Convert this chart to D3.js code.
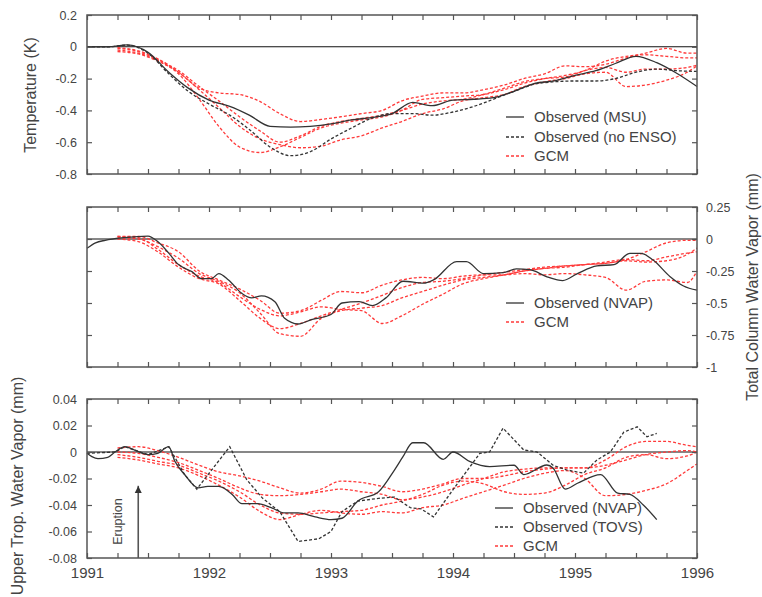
<!DOCTYPE html>
<html>
<head>
<meta charset="utf-8">
<script src="https://cdn.jsdelivr.net/npm/d3@7"></script>
<style>
  body { margin: 0; background: #fff; }
  svg text { font-family: "Liberation Sans", Arial, Helvetica, sans-serif; fill: #444; }
</style>
</head>
<body>
<svg id="chart" width="762" height="597"></svg>
<script>
// ---- data ----
const yearTicks = [1991, 1992, 1993, 1994, 1995, 1996];

const tempTicks = [0.2, 0, -0.2, -0.4, -0.6, -0.8];
const tempTickLabels = ['0.2', '0', '-0.2', '-0.4', '-0.6', '-0.8'];
const tcwvTicks = [0.25, 0, -0.25, -0.5, -0.75, -1];
const tcwvTickLabels = ['0.25', '0', '-0.25', '-0.5', '-0.75', '-1'];
const utwvTicks = [0.04, 0.02, 0, -0.02, -0.04, -0.06, -0.08];
const utwvTickLabels = ['0.04', '0.02', '0', '-0.02', '-0.04', '-0.06', '-0.08'];

// GCM ensemble members share one time axis
const gcmYears = [1991.25, 1991.42, 1991.58, 1991.75, 1991.92, 1992.08, 1992.25, 1992.42, 1992.58, 1992.75,
  1992.92, 1993.08, 1993.25, 1993.42, 1993.58, 1993.75, 1993.92, 1994.08, 1994.25, 1994.42,
  1994.58, 1994.75, 1994.92, 1995.08, 1995.25, 1995.42, 1995.58, 1995.75, 1995.92, 1996.0];

// Panel 1: temperature (K)
const msuYears = [1991.0, 1991.17, 1991.33, 1991.5, 1991.67, 1991.83, 1992.0, 1992.17, 1992.33, 1992.5, 1992.67,
  1992.83, 1993.0, 1993.17, 1993.33, 1993.5, 1993.67, 1993.83, 1994.0, 1994.17, 1994.33,
  1994.5, 1994.67, 1994.83, 1995.0, 1995.17, 1995.33, 1995.5, 1995.67, 1995.83, 1996.0];
const msuTemp = [0.0, 0.0, 0.012, -0.035, -0.16, -0.26, -0.335, -0.375, -0.43, -0.50, -0.505,
  -0.50, -0.485, -0.46, -0.445, -0.42, -0.35, -0.37, -0.335, -0.33, -0.32,
  -0.28, -0.23, -0.215, -0.18, -0.15, -0.105, -0.06, -0.10, -0.165, -0.25];
const noEnsoTemp = [0.0, 0.0, 0.01, -0.04, -0.17, -0.28, -0.36, -0.43, -0.52, -0.63, -0.685,
  -0.66, -0.58, -0.51, -0.45, -0.42, -0.42, -0.43, -0.41, -0.375, -0.33,
  -0.28, -0.235, -0.22, -0.215, -0.215, -0.20, -0.16, -0.14, -0.15, -0.155];
const gcmTemp1 = [-0.005, -0.025, -0.075, -0.16, -0.26, -0.29, -0.30, -0.345, -0.42, -0.47, -0.457, -0.44, -0.42, -0.40, -0.34,
  -0.31, -0.29, -0.29, -0.27, -0.24, -0.20, -0.17, -0.12, -0.125, -0.11, -0.07, -0.04, -0.01, -0.04, -0.04];
const gcmTemp2 = [-0.02, -0.04, -0.085, -0.17, -0.33, -0.50, -0.63, -0.665, -0.63, -0.57, -0.51, -0.48, -0.46, -0.44, -0.40,
  -0.33, -0.32, -0.31, -0.30, -0.27, -0.23, -0.20, -0.18, -0.15, -0.09, -0.06, -0.05, -0.06, -0.07, -0.07];
const gcmTemp3 = [-0.01, -0.03, -0.08, -0.15, -0.25, -0.34, -0.44, -0.53, -0.60, -0.56, -0.50, -0.47, -0.45, -0.43, -0.40,
  -0.36, -0.34, -0.33, -0.30, -0.26, -0.22, -0.20, -0.19, -0.15, -0.13, -0.16, -0.14, -0.14, -0.13, -0.115];
const gcmTemp4 = [-0.03, -0.045, -0.09, -0.16, -0.27, -0.38, -0.50, -0.58, -0.615, -0.635, -0.625, -0.585, -0.56, -0.51, -0.47,
  -0.42, -0.39, -0.34, -0.32, -0.30, -0.25, -0.22, -0.20, -0.17, -0.16, -0.25, -0.24, -0.21, -0.16, -0.12];

// Panel 2: total column water vapor (mm)
const nvapYears = [1991.0, 1991.07, 1991.15, 1991.3, 1991.5, 1991.58, 1991.67, 1991.75, 1991.86, 1991.94,
  1992.02, 1992.08, 1992.16, 1992.27, 1992.35, 1992.43, 1992.54, 1992.62, 1992.73, 1992.84,
  1993.0, 1993.09, 1993.23, 1993.34, 1993.45, 1993.59, 1993.76, 1993.84, 1994.03, 1994.11,
  1994.25, 1994.41, 1994.52, 1994.63, 1994.77, 1994.9, 1995.02, 1995.18, 1995.32, 1995.45,
  1995.54, 1995.64, 1995.78, 1995.89, 1996.0];
const nvapTcwv = [-0.073, -0.03, -0.01, 0.01, 0.023, -0.02, -0.11, -0.20, -0.255, -0.31,
  -0.31, -0.27, -0.32, -0.425, -0.46, -0.445, -0.49, -0.62, -0.664, -0.63,
  -0.59, -0.50, -0.49, -0.52, -0.46, -0.33, -0.345, -0.32, -0.177, -0.177,
  -0.27, -0.263, -0.234, -0.24, -0.295, -0.325, -0.27, -0.21, -0.20, -0.112,
  -0.112, -0.164, -0.294, -0.367, -0.40];
const gcmTcwv1 = [0.02, 0.02, -0.03, -0.10, -0.25, -0.32, -0.39, -0.48, -0.58, -0.56, -0.48, -0.41, -0.42, -0.36, -0.32,
  -0.30, -0.31, -0.29, -0.28, -0.28, -0.27, -0.28, -0.27, -0.28, -0.30, -0.40, -0.33, -0.32, -0.34, -0.25];
const gcmTcwv2 = [0.01, 0.00, -0.06, -0.15, -0.27, -0.33, -0.42, -0.58, -0.74, -0.76, -0.62, -0.56, -0.54, -0.52, -0.46,
  -0.41, -0.36, -0.32, -0.30, -0.28, -0.25, -0.23, -0.22, -0.20, -0.19, -0.16, -0.10, -0.03, -0.01, -0.01];
const gcmTcwv3 = [0.02, 0.01, -0.08, -0.20, -0.29, -0.34, -0.45, -0.55, -0.60, -0.57, -0.53, -0.55, -0.56, -0.66, -0.60,
  -0.51, -0.43, -0.35, -0.31, -0.28, -0.25, -0.23, -0.21, -0.20, -0.19, -0.17, -0.18, -0.17, -0.12, -0.07];
const gcmTcwv4 = [0.00, -0.02, -0.10, -0.22, -0.31, -0.35, -0.48, -0.62, -0.70, -0.66, -0.60, -0.55, -0.50, -0.44, -0.38,
  -0.34, -0.33, -0.31, -0.28, -0.26, -0.24, -0.22, -0.21, -0.20, -0.18, -0.16, -0.17, -0.14, -0.11, -0.10];

// Panel 3: upper tropospheric water vapor (mm)
const nvapUtYears = [1991.0, 1991.04, 1991.09, 1991.17, 1991.23, 1991.31, 1991.39, 1991.5, 1991.58, 1991.67,
  1991.72, 1991.8, 1991.91, 1991.99, 1992.08, 1992.19, 1992.27, 1992.4, 1992.51, 1992.62,
  1992.73, 1992.87, 1993.0, 1993.09, 1993.22, 1993.39, 1993.52, 1993.59, 1993.67, 1993.76,
  1993.92, 1994.0, 1994.14, 1994.3, 1994.5, 1994.58, 1994.77, 1994.82, 1994.92, 1995.02,
  1995.21, 1995.35, 1995.45, 1995.56, 1995.67];
const nvapUtwv = [-0.001, -0.0035, -0.005, -0.004, 0.0, 0.004, 0.0015, -0.002, -0.001, 0.004,
  -0.007, -0.017, -0.027, -0.026, -0.026, -0.032, -0.039, -0.039, -0.042, -0.046,
  -0.046, -0.049, -0.051, -0.05, -0.037, -0.03, -0.0136, -0.0035, 0.007, 0.007,
  -0.0055, 0.0, -0.0073, -0.011, -0.010, -0.017, -0.0098, -0.012, -0.028, -0.0236,
  -0.017, -0.031, -0.032, -0.040, -0.051];
const tovsYears = [1991.0, 1991.23, 1991.31, 1991.5, 1991.67, 1991.8, 1991.9, 1992.17, 1992.31, 1992.44,
  1992.58, 1992.73, 1992.9, 1993.0, 1993.09, 1993.22, 1993.39, 1993.52, 1993.65, 1993.74,
  1993.84, 1993.98, 1994.14, 1994.22, 1994.3, 1994.41, 1994.58, 1994.69, 1994.82, 1994.93,
  1995.07, 1995.18, 1995.29, 1995.4, 1995.51, 1995.59, 1995.67];
const tovsUtwv = [-0.001, 0.0, 0.004, -0.002, 0.004, -0.017, -0.028, 0.004, -0.021, -0.035,
  -0.045, -0.0675, -0.0655, -0.06, -0.045, -0.037, -0.035, -0.034, -0.042, -0.043,
  -0.049, -0.031, -0.011, -0.001, 0.0, 0.018, 0.0015, 0.0, -0.01, -0.0135,
  -0.016, -0.006, 0.0, 0.015, 0.019, 0.0115, 0.014];
const gcmUtwv1 = [0.003, 0.004, 0.001, -0.004, -0.010, -0.015, -0.018, -0.022, -0.027, -0.031, -0.028, -0.022, -0.023, -0.026, -0.030,
  -0.028, -0.024, -0.020, -0.020, -0.018, -0.015, -0.013, -0.012, -0.012, -0.010, -0.006, -0.002, 0.000, 0.001, 0.000];
const gcmUtwv2 = [0.0, -0.001, -0.004, -0.008, -0.014, -0.020, -0.027, -0.032, -0.033, -0.032, -0.030, -0.028, -0.030, -0.032, -0.036,
  -0.034, -0.030, -0.025, -0.020, -0.015, -0.013, -0.012, -0.012, -0.012, -0.006, 0.004, 0.008, 0.008, 0.005, 0.004];
const gcmUtwv3 = [-0.002, -0.004, -0.007, -0.010, -0.016, -0.022, -0.030, -0.040, -0.046, -0.047, -0.046, -0.045, -0.044, -0.040, -0.037,
  -0.032, -0.025, -0.022, -0.024, -0.030, -0.032, -0.031, -0.025, -0.017, -0.012, -0.004, -0.002, -0.005, -0.003, 0.0];
const gcmUtwv4 = [-0.004, -0.006, -0.009, -0.012, -0.018, -0.025, -0.034, -0.045, -0.051, -0.047, -0.044, -0.046, -0.047, -0.045, -0.046,
  -0.042, -0.040, -0.035, -0.030, -0.025, -0.020, -0.016, -0.014, -0.020, -0.033, -0.032, -0.029, -0.024, -0.014, -0.009];

const eruptionYear = 1991.42;

// ---- styles ----
const INK = '#333';
const RED = '#ff3a3a';
const FRAME = '#555';
const TEXT = '#444';
const DASH = '3,2';

const svg = d3.select('#chart');
const x = d3.scaleLinear().domain([1991, 1996]).range([87, 697]);
const [X0, X1] = x.range();
const quarterTicks = d3.range(1991, 1996.001, 0.25);

function styleAxis(sel, size) {
  sel.select('.domain').remove();
  sel.selectAll('line').attr('stroke', FRAME).attr('stroke-width', 1.2);
  sel.selectAll('text').style('font-size', size + 'px').style('fill', TEXT)
    .style('font-family', '"Liberation Sans", Arial, Helvetica, sans-serif');
}

function drawLine(g, y, years, vals, color, dash, curve) {
  const pts = years.map((t, i) => [t, vals[i]]);
  const path = g.append('path')
    .datum(pts)
    .attr('fill', 'none')
    .attr('stroke', color)
    .attr('stroke-width', 1.3)
    .attr('d', d3.line().x(d => x(d[0])).y(d => y(d[1])).curve(curve || d3.curveMonotoneX));
  if (dash) path.attr('stroke-dasharray', dash);
}

function drawLegend(g, lx, tx, items) {
  items.forEach(it => {
    g.append('line')
      .attr('x1', lx).attr('x2', lx + 18)
      .attr('y1', it.y).attr('y2', it.y)
      .attr('stroke', it.color).attr('stroke-width', 1.3)
      .attr('stroke-dasharray', it.dash || null);
    g.append('text')
      .attr('x', tx).attr('y', it.y).attr('dy', '0.36em')
      .style('font-size', '15px')
      .text(it.label);
  });
}

function drawPanel(p) {
  const y = d3.scaleLinear().domain(p.domain).range([p.bottom, p.top]);
  const g = svg.append('g');

  // zero reference
  g.append('line')
    .attr('x1', X0).attr('x2', X1).attr('y1', y(0)).attr('y2', y(0))
    .attr('stroke', '#111').attr('stroke-width', 1.1);

  p.gcm.forEach(vals => drawLine(g, y, gcmYears, vals, RED, DASH));
  p.obs.forEach(o => drawLine(g, y, o.years, o.vals, INK, o.dash, o.curve));

  // frame
  g.append('rect')
    .attr('x', X0).attr('y', p.top)
    .attr('width', X1 - X0).attr('height', p.bottom - p.top)
    .attr('fill', 'none').attr('stroke', FRAME).attr('stroke-width', 1.5);

  // inward ticks on all four sides
  g.append('g').attr('transform', `translate(0,${p.top})`)
    .call(d3.axisTop(x).tickValues(quarterTicks).tickSize(-5).tickFormat(''))
    .call(s => styleAxis(s, 12));
  g.append('g').attr('transform', `translate(0,${p.bottom})`)
    .call(d3.axisBottom(x).tickValues(quarterTicks).tickSize(-5).tickPadding(9)
      .tickFormat(d => (p.yearLabels && Number.isInteger(d)) ? String(d) : ''))
    .call(s => styleAxis(s, 15));
  g.append('g').attr('transform', `translate(${X0},0)`)
    .call(d3.axisLeft(y).tickValues(p.ticks).tickSize(-5).tickPadding(10)
      .tickFormat((d, i) => p.side === 'left' ? p.tickLabels[i] : ''))
    .call(s => styleAxis(s, 12.5));
  g.append('g').attr('transform', `translate(${X1},0)`)
    .call(d3.axisRight(y).tickValues(p.ticks).tickSize(-5).tickPadding(9)
      .tickFormat((d, i) => p.side === 'right' ? p.tickLabels[i] : ''))
    .call(s => styleAxis(s, 12.5));

  // axis title
  g.append('text')
    .attr('transform', `translate(${p.titleX},${p.titleY}) rotate(-90)`)
    .attr('text-anchor', 'middle').attr('dy', '0.36em')
    .style('font-size', '16px')
    .text(p.title);

  drawLegend(g, p.legendX, p.legendX + 28, p.legend);
  return { g, y };
}

drawPanel({
  top: 15, bottom: 174, domain: [-0.8, 0.2],
  ticks: tempTicks, tickLabels: tempTickLabels, side: 'left',
  title: 'Temperature (K)', titleX: 30, titleY: 95,
  gcm: [gcmTemp1, gcmTemp2, gcmTemp3, gcmTemp4],
  obs: [
    { years: msuYears, vals: noEnsoTemp, dash: DASH },
    { years: msuYears, vals: msuTemp, dash: null }
  ],
  legendX: 506,
  legend: [
    { y: 117, label: 'Observed (MSU)', color: INK },
    { y: 137, label: 'Observed (no ENSO)', color: INK, dash: DASH },
    { y: 156, label: 'GCM', color: RED, dash: DASH }
  ]
});

drawPanel({
  top: 207, bottom: 367, domain: [-1, 0.25],
  ticks: tcwvTicks, tickLabels: tcwvTickLabels, side: 'right',
  title: 'Total Column Water Vapor (mm)', titleX: 752, titleY: 287,
  gcm: [gcmTcwv1, gcmTcwv2, gcmTcwv3, gcmTcwv4],
  obs: [{ years: nvapYears, vals: nvapTcwv, dash: null }],
  legendX: 506,
  legend: [
    { y: 303, label: 'Observed (NVAP)', color: INK },
    { y: 322, label: 'GCM', color: RED, dash: DASH }
  ]
});

const bottom = drawPanel({
  top: 399, bottom: 558, domain: [-0.08, 0.04],
  ticks: utwvTicks, tickLabels: utwvTickLabels, side: 'left', yearLabels: true,
  title: 'Upper Trop. Water Vapor (mm)', titleX: 17, titleY: 486,
  gcm: [gcmUtwv1, gcmUtwv2, gcmUtwv3, gcmUtwv4],
  obs: [
    { years: tovsYears, vals: tovsUtwv, dash: DASH, curve: d3.curveLinear },
    { years: nvapUtYears, vals: nvapUtwv, dash: null }
  ],
  legendX: 495,
  legend: [
    { y: 508, label: 'Observed (NVAP)', color: INK },
    { y: 527, label: 'Observed (TOVS)', color: INK, dash: DASH },
    { y: 546, label: 'GCM', color: RED, dash: DASH }
  ]
});

// Pinatubo eruption marker
const ex = x(eruptionYear);
const yb = bottom.y;
bottom.g.append('line')
  .attr('x1', ex).attr('x2', ex)
  .attr('y1', yb(-0.08)).attr('y2', yb(-0.0255))
  .attr('stroke', '#555').attr('stroke-width', 1.6);
bottom.g.append('path')
  .attr('d', `M${ex},${yb(-0.0265) - 1} l-3.5,7 l7,0 z`)
  .attr('fill', '#333');
bottom.g.append('text')
  .attr('transform', `translate(${ex - 21},${yb(-0.0525)}) rotate(-90)`)
  .attr('text-anchor', 'middle').attr('dy', '0.36em')
  .style('font-size', '12.5px')
  .text('Eruption');
</script>
</body>
</html>
